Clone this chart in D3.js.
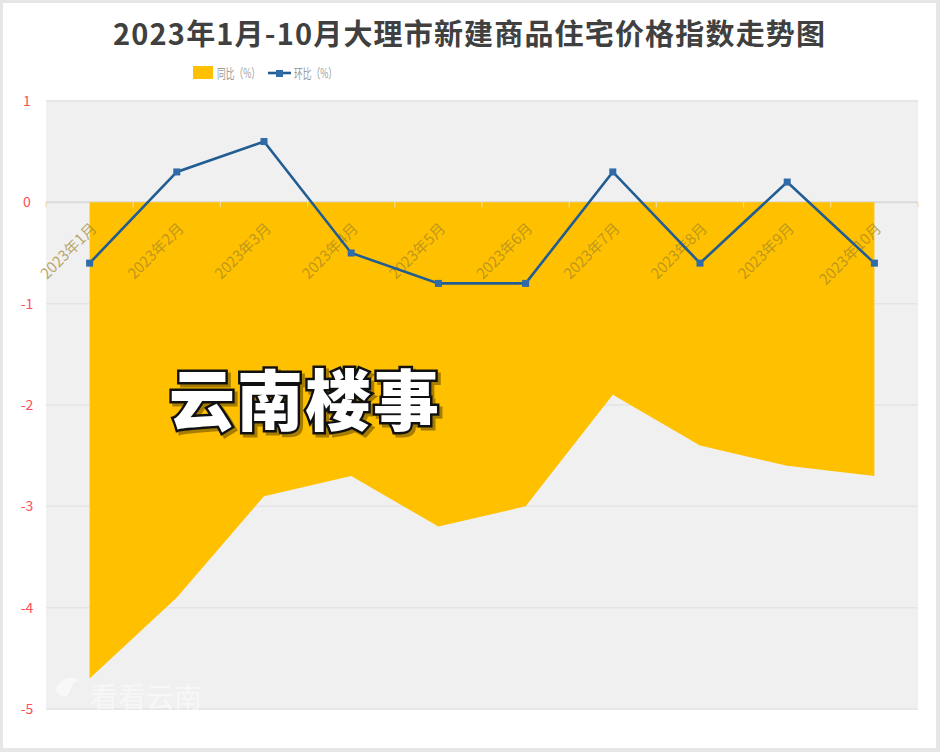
<!DOCTYPE html>
<html><head><meta charset="utf-8">
<script src="https://cdn.jsdelivr.net/npm/d3@7"></script>
<style>
html,body{margin:0;padding:0;background:#e6e6e6;}
svg{display:block;}
</style></head>
<body>
<script>
const categories = ["2023年1月","2023年2月","2023年3月","2023年4月","2023年5月","2023年6月","2023年7月","2023年8月","2023年9月","2023年10月"];
const yoyValues = [-4.7,-3.9,-2.9,-2.7,-3.2,-3.0,-1.9,-2.4,-2.6,-2.7];
const momValues = [-0.6,0.3,0.6,-0.5,-0.8,-0.8,0.3,-0.6,0.2,-0.6];
const yTicks = [1,0,-1,-2,-3,-4,-5];
const titleText = "2023年1月-10月大理市新建商品住宅价格指数走势图";
const legendLabels = ["同比（%）","环比（%）"];

const W = 940, H = 752;
const svg = d3.select("body").append("svg").attr("width", W).attr("height", H);
const font = "'Noto Sans CJK SC','Noto Sans',sans-serif";

// card
svg.append("rect").attr("x",3).attr("y",3).attr("width",933).attr("height",745).attr("fill","#ffffff");

const plot = {l:46, r:918, t:100, b:710};
svg.append("rect").attr("x",plot.l).attr("y",plot.t).attr("width",plot.r-plot.l).attr("height",plot.b-plot.t).attr("fill","#f0f0f0");

const x = d3.scaleBand().domain(categories).range([plot.l, plot.r]);
const xc = d => x(d) + x.bandwidth()/2;
const y = d3.scaleLinear().domain([-5,1]).range([709,101]);

// gridlines
svg.append("g").selectAll("line").data(yTicks).join("line")
  .attr("x1",plot.l).attr("x2",plot.r)
  .attr("y1",d=>y(d)).attr("y2",d=>y(d))
  .attr("stroke",d=>d===0?"#dadada":"#e4e4e4").attr("stroke-width",d=>d===0?2:1.5);

// area
const area = d3.area().x((d,i)=>xc(categories[i])).y0(y(0)).y1(d=>y(d));
svg.append("path").datum(yoyValues).attr("d",area).attr("fill","#FFC000");

// zero line ticks
svg.append("g").selectAll("line").data(d3.range(categories.length+1)).join("line")
  .attr("x1",i=>plot.l+i*x.bandwidth()).attr("x2",i=>plot.l+i*x.bandwidth())
  .attr("y1",y(0)).attr("y2",y(0)+5)
  .attr("stroke","#f3dca0").attr("stroke-width",1.2);

// y labels
svg.append("g").selectAll("text").data(yTicks).join("text")
  .attr("x",27).attr("y",d=>y(d)).attr("dy","0.35em")
  .attr("text-anchor","middle")
  .attr("font-family",font).attr("font-size",14)
  .attr("fill","#ff4d5a").text(d=>d);

// x labels
svg.append("g").selectAll("text").data(categories).join("text")
  .attr("transform",d=>`translate(${xc(d)+8},${y(0)+27}) rotate(-45)`)
  .attr("text-anchor","end")
  .attr("font-family",font).attr("font-size",15)
  .attr("fill","#a0852a").attr("fill-opacity",0.7).text(d=>d);

// line
const line = d3.line().x((d,i)=>xc(categories[i])).y(d=>y(d));
svg.append("path").datum(momValues).attr("d",line)
  .attr("fill","none").attr("stroke","#215D92").attr("stroke-width",2.6);
svg.append("g").selectAll("rect").data(momValues).join("rect")
  .attr("x",(d,i)=>xc(categories[i])-3.5).attr("y",d=>y(d)-3.5)
  .attr("width",7).attr("height",7).attr("fill","#2E6BA8");

// title
svg.append("text").attr("x",113).attr("y",45)
  .attr("font-family",font).attr("font-size",29).attr("font-weight","bold")
  .attr("textLength",712).attr("lengthAdjust","spacing")
  .attr("fill","#404040").text(titleText);

// legend
const lg = svg.append("g").attr("font-family",font).attr("font-size",13).attr("fill","#9a9a9a");
lg.append("rect").attr("x",193).attr("y",66).attr("width",20).attr("height",13).attr("fill","#FFC000");
lg.append("text").attr("x",217).attr("y",73).attr("dy","0.35em").attr("textLength",43).attr("lengthAdjust","spacingAndGlyphs").text(legendLabels[0]);
lg.append("line").attr("x1",268).attr("x2",291).attr("y1",73).attr("y2",73).attr("stroke","#215D92").attr("stroke-width",2.6);
lg.append("rect").attr("x",276).attr("y",70).attr("width",7).attr("height",7).attr("fill","#2E6BA8");
lg.append("text").attr("x",294).attr("y",73).attr("dy","0.35em").attr("textLength",43).attr("lengthAdjust","spacingAndGlyphs").text(legendLabels[1]);

// watermark
svg.append("text").attr("x",305).attr("y",425).attr("text-anchor","middle")
  .attr("font-family",font).attr("font-size",66).attr("font-weight","900")
  .attr("fill","#ffffff").attr("stroke","#111111").attr("stroke-width",5)
  .attr("paint-order","stroke").attr("letter-spacing",2)
  .style("filter","drop-shadow(3px 3px 0 rgba(0,0,0,0.35))")
  .text("云南楼事");
svg.append("text").attr("x",90).attr("y",708)
  .attr("font-family",font).attr("font-size",28)
  .attr("fill","#ffffff").attr("fill-opacity",0.55).text("看看云南");
svg.append("path").attr("d","M55,690 q10,-18 25,-10 q-8,2 -10,12 q-6,10 -15,-2 z")
  .attr("fill","#ffffff").attr("fill-opacity",0.5);
</script>
</body></html>
